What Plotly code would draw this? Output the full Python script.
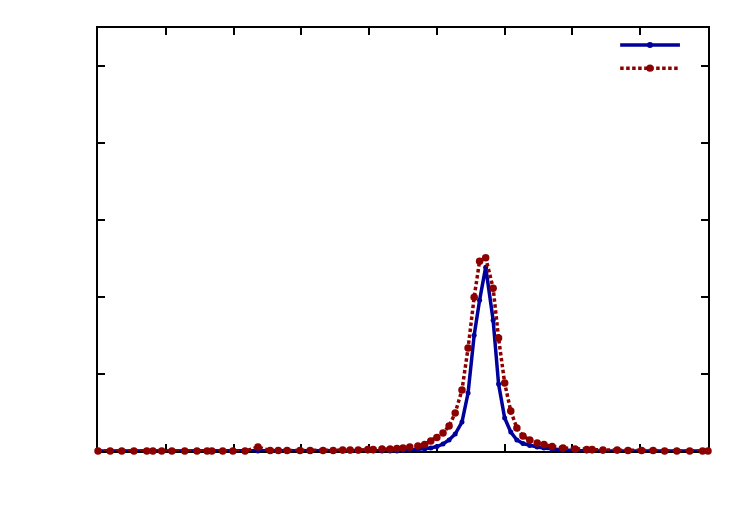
import plotly.graph_objects as go

# x positions (shared by both series)
x_vals = [0, 1.8, 3.5, 5.3, 7.2, 8.1, 9.4, 10.9, 12.8, 14.6, 16.1, 16.8, 18.4, 19.9, 21.7,
          23.6, 25.4, 26.6, 27.9, 29.8, 31.3, 33.2, 34.7, 36.1, 37.2, 38.4, 39.8, 40.6,
          41.9, 43.1, 44.1, 45.0, 46.0, 47.2, 48.2, 49.1, 50.0, 50.9, 51.8, 52.7, 53.7,
          54.6, 55.5, 56.3, 57.2, 58.3, 59.1, 60.0, 60.9, 61.8, 62.7, 63.7, 64.8, 65.8,
          67.0, 68.6, 70.4, 72.1, 72.9, 74.5, 76.6, 78.2, 80.2, 81.9, 83.6, 85.4, 87.3,
          89.2, 90.0]

series_a = [0, 0, 0, 0, 0, 0, 0, 0, 0, 0, 0, 0, 0, 0, 0,
            0, 0, 0, 0, 0, 0, 0, 0, 0, 0, 0, 0, 0,
            0, 0, 0, 0.0006, 0.0013, 0.0019, 0.0026, 0.0039, 0.0058, 0.0091, 0.0143, 0.0221, 0.0377,
            0.0753, 0.1506, 0.1961, 0.2390, 0.1701, 0.0870, 0.0429, 0.0247, 0.0143, 0.0097, 0.0071, 0.0052, 0.0039,
            0.0026, 0.0013, 0.0006, 0, 0, 0, 0, 0, 0, 0, 0, 0, 0,
            0, 0]

series_b = [0, 0, 0, 0, 0, 0, 0, 0, 0, 0, 0, 0, 0, 0, 0,
            0.0052, 0.0006, 0.0006, 0.0006, 0.0006, 0.0006, 0.0006, 0.0006, 0.0013, 0.0013, 0.0013, 0.0019, 0.0019,
            0.0026, 0.0026, 0.0032, 0.0039, 0.0052, 0.0065, 0.0084, 0.0130, 0.0175, 0.0234, 0.0325, 0.0494, 0.0792,
            0.1338, 0.2000, 0.2468, 0.2513, 0.2117, 0.1468, 0.0883, 0.0519, 0.0299, 0.0195, 0.0143, 0.0104, 0.0084,
            0.0058, 0.0039, 0.0026, 0.0019, 0.0019, 0.0013, 0.0013, 0.0006, 0.0006, 0.0006, 0, 0, 0,
            0, 0]

BLUE = "rgb(0,0,155)"
RED = "rgb(140,0,0)"
RED_DASH = "3.5px,2.5px"

fig = go.Figure()
fig.add_trace(go.Scatter(x=x_vals, y=series_a, mode="lines+markers",
                         line=dict(color=BLUE, width=3.5),
                         marker=dict(color=BLUE, size=5), cliponaxis=False,
                         showlegend=False))
fig.add_trace(go.Scatter(x=x_vals, y=series_b, mode="lines+markers",
                         line=dict(color=RED, width=3.5, dash=RED_DASH),
                         marker=dict(color=RED, size=7.5), cliponaxis=False,
                         showlegend=False))

axis_common = dict(showline=True, linecolor="black", linewidth=2, mirror="ticks",
                   ticks="inside", ticklen=7, tickwidth=1.5, tickcolor="black",
                   showticklabels=False, showgrid=False, zeroline=False,
                   layer="below traces")
fig.update_xaxes(range=[0, 90], dtick=10, tick0=0, **axis_common)
fig.update_yaxes(range=[0, 0.55], dtick=0.1, tick0=0, **axis_common)

# legend samples (no text)
shapes = [
    dict(type="line", xref="paper", yref="paper", x0=0.856, x1=0.954, y0=0.960, y1=0.960,
         line=dict(color=BLUE, width=3.5)),
    dict(type="circle", xref="paper", yref="paper", x0=0.9049 - 0.005, x1=0.9049 + 0.005,
         y0=0.960 - 0.007, y1=0.960 + 0.007, fillcolor=BLUE, line=dict(color=BLUE, width=0)),
    dict(type="line", xref="paper", yref="paper", x0=0.856, x1=0.954, y0=0.905, y1=0.905,
         line=dict(color=RED, width=3.5, dash=RED_DASH)),
    dict(type="circle", xref="paper", yref="paper", x0=0.9049 - 0.006, x1=0.9049 + 0.006,
         y0=0.905 - 0.0085, y1=0.905 + 0.0085, fillcolor=RED, line=dict(color=RED, width=0)),
]

fig.update_layout(width=750, height=525, margin=dict(l=98, r=42, t=28, b=74),
                  plot_bgcolor="white", paper_bgcolor="white", shapes=shapes)

fig.write_html("out.html")
